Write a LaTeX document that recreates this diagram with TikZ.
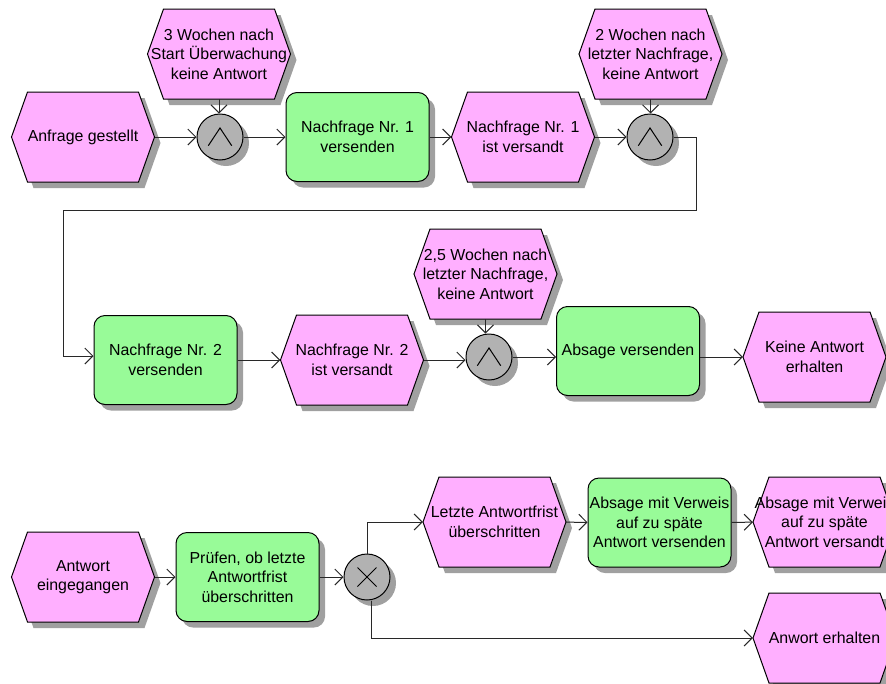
\documentclass[tikz,border=0pt]{standalone}
\usepackage{fontspec}
\setmainfont{Liberation Sans}
\usetikzlibrary{arrows.meta,shadows}
\definecolor{evc}{RGB}{255,175,255}
\definecolor{fnc}{RGB}{152,251,152}
\definecolor{opc}{RGB}{178,178,178}
\definecolor{shd}{RGB}{160,160,160}
\definecolor{lnc}{RGB}{40,40,40}
\newcommand{\myHex}[2]{(#1-71.5,#2) -- (#1-55.5,#2-45) -- (#1+55.5,#2-45) -- (#1+71.5,#2) -- (#1+55.5,#2+45) -- (#1-55.5,#2+45) -- cycle}
\newcommand{\myEvent}[4]{%
  \fill[shd] \myHex{#2+6}{#3+6};
  \draw[line width=1pt, fill=evc] \myHex{#2}{#3};
  \node[evtxt] (#1) at (#2,#3) {#4};
}
\tikzset{
  txtfont/.style={font=\fontsize{15.9}{19.5}\selectfont},
  evtxt/.style={rectangle, minimum width=143pt, minimum height=90pt, inner sep=0pt, align=center, txtfont},
  fnbox/.style={rectangle, rounded corners=11pt, draw=black, line width=1pt, fill=fnc,
    minimum width=143pt, minimum height=89pt, inner sep=0pt, align=center, txtfont,
    drop shadow={shadow xshift=6pt, shadow yshift=-6pt, fill=shd, opacity=1}},
  opnode/.style={circle, draw=black, line width=1pt, fill=opc, minimum size=46pt, inner sep=0pt,
    drop shadow={shadow xshift=6pt, shadow yshift=-6pt, fill=shd, opacity=1}},
  andop/.style={opnode, path picture={\draw[line width=1pt] ([xshift=-11.7pt,yshift=-8.7pt]path picture bounding box.center) -- ++(11.7pt,17.7pt) -- ++(11.7pt,-17.7pt);}},
  xorop/.style={opnode, path picture={\draw[line width=1pt] ([xshift=-9.5pt,yshift=-9.5pt]path picture bounding box.center) -- ++(19pt,19pt) ([xshift=-9.5pt,yshift=9.5pt]path picture bounding box.center) -- ++(19pt,-19pt);}},
  flow/.style={draw=lnc, line width=1pt, -{Straight Barb[length=8pt,width=16pt,line width=1pt]}},
}
\begin{document}
\begin{tikzpicture}[x=1pt,y=-1pt]
\useasboundingbox (0,0) rectangle (886,683);
\clip (0,0) rectangle (886,683);
% Row 1
\myEvent{e1}{83}{137}{Anfrage gestellt}
\myEvent{e2}{219}{54}{3 Wochen nach\\Start Überwachung\\keine Antwort}
\node[andop] (a1) at (220,137) {};
\node[fnbox] (f1) at (357.5,137) {Nachfrage Nr. 1\\versenden};
\myEvent{e3}{523}{137}{Nachfrage Nr. 1\\ist versandt}
\myEvent{e4}{650.5}{54}{2 Wochen nach\\letzter Nachfrage,\\keine Antwort}
\node[andop] (a2) at (650,137) {};
% Row 2
\node[fnbox] (f2) at (165.5,360) {Nachfrage Nr. 2\\versenden};
\myEvent{e5}{352}{360}{Nachfrage Nr. 2\\ist versandt}
\myEvent{e6}{485.5}{274}{2,5 Wochen nach\\letzter Nachfrage,\\keine Antwort}
\node[andop] (a3) at (489,357) {};
\node[fnbox] (f3) at (628,351) {Absage versenden};
\myEvent{e7}{814.5}{357}{Keine Antwort\\erhalten}
% Row 3
\myEvent{e8}{83}{577}{Antwort\\eingegangen}
\node[fnbox] (f4) at (247.5,577) {Prüfen, ob letzte\\Antwortfrist\\überschritten};
\node[xorop] (x1) at (367,577) {};
\myEvent{e9}{494.5}{522}{Letzte Antwortfrist\\überschritten}
\node[fnbox] (f5) at (659.5,522.5) {Absage mit Verweis\\auf zu späte\\Antwort versenden};
\myEvent{e10}{824.5}{522}{Absage mit Verweis\\auf zu späte\\Antwort versandt}
\myEvent{e11}{824.5}{638}{Anwort erhalten}
% Connectors row 1
\draw[flow] (e1) -- (a1);
\draw[flow] (e2.south) -- (e2.south |- a1.north);
\draw[flow] (a1) -- (f1);
\draw[flow] (f1) -- (e3);
\draw[flow] (e3) -- (a2);
\draw[flow] (e4.south) -- (e4.south |- a2.north);
\coordinate (r1) at (696,210);
\coordinate (r2) at (63,210);
\coordinate (r3) at (63,356);
\draw[flow] (a2.east) -| (r1) -- (r2) -- (r3) -- (r3 -| f2.west);
% Row 2
\draw[flow] (f2) -- (e5);
\draw[flow] (e5.east) -- (e5.east -| a3.west);
\draw[flow] (e6.south) -- (e6.south |- a3.north);
\draw[flow] (a3.east) -- (a3.east -| f3.west);
\draw[flow] (f3.east |- a3.east) -- (e7.west);
% Row 3
\draw[flow] (e8) -- (f4);
\draw[flow] (f4) -- (x1);
\draw[flow] (x1.north) |- (e9.west);
\draw[flow] ([xshift=4pt]x1.south) |- (e11.west);
\draw[flow] (e9) -- (f5);
\draw[flow] (f5) -- (e10);
\end{tikzpicture}
\end{document}
